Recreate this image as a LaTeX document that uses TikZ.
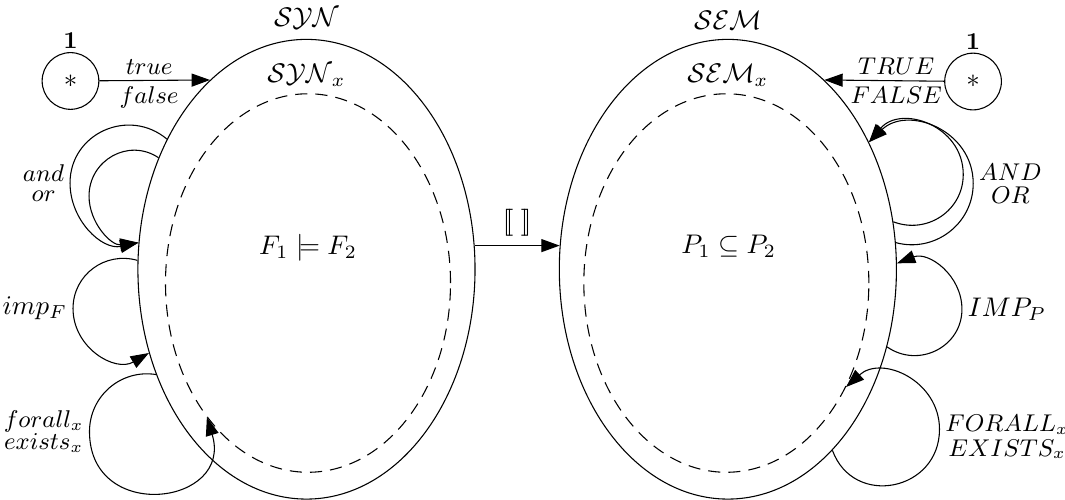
\documentclass[tikz,border=0pt]{standalone}
\usepackage{amsmath,amssymb}
\usetikzlibrary{arrows.meta,positioning,shapes.geometric}

\begin{document}
\begin{tikzpicture}[
  outerset/.style={draw, ellipse, minimum width=4.4cm, minimum height=6cm, inner sep=0pt},
  innerset/.style={draw, ellipse, dash pattern=on 4.5pt off 3pt,
                   minimum width=3.72cm, minimum height=4.94cm, inner sep=0pt},
  initstate/.style={draw, circle, minimum size=7.4mm, inner sep=0pt},
  lbl/.style={font=\small, align=center, inner sep=2pt},
  arrow/.style={-{Triangle[length=2.4mm, width=1.7mm]}}
]
\useasboundingbox (0,0) rectangle (13.9,6.514);

% the two sets
\node[outerset] (syn) at (4.0,3.0) {};
\node[innerset] (synx) at (4.02,2.82) {};
\node[outerset] (sem) at (9.5,3.0) {};
\node[innerset] (semx) at (9.48,2.82) {};
\node[above=0pt of syn.north] (synname) {$\mathcal{SYN}$};
\node[below=2mm of syn.north] (synxname) {$\mathcal{SYN}_x$};
\node[above=0pt of sem.north] (semname) {$\mathcal{SEM}$};
\node[below=2mm of sem.north] (semxname) {$\mathcal{SEM}_x$};
\node (synrel) at (4.02,3.28) {$F_1 \models F_2$};
\node (semrel) at (9.51,3.3) {$P_1 \subseteq P_2$};

% outermost points of the loops
\coordinate (andout) at (0.914,4.125);
\coordinate (andin) at (1.162,3.956);
\coordinate (impleft) at (0.953,2.487);
\coordinate (allleft) at (1.168,0.881);
\coordinate (androut) at (12.702,4.119);
\coordinate (andrin) at (12.572,4.236);
\coordinate (impright) at (12.555,2.478);
\coordinate (allright) at (12.262,0.911);

% constants
\node[initstate, label={[label distance=-0.8mm, font=\small]above:$\mathbf{1}$}] (lstar) at (0.92,5.457) {$*$};
\node[initstate, label={[label distance=-0.8mm, font=\small]above:$\mathbf{1}$}] (rstar) at (12.70,5.45) {$*$};
\draw[arrow] (lstar) -- node[lbl, above, pos=0.45]{$true$} node[lbl, below, pos=0.45]{$false$} (syn.117);
\draw[arrow] (rstar) -- node[lbl, above, pos=0.4]{$TRUE$} node[lbl, below, pos=0.4]{$FALSE$} (sem.63);

% interpretation
\draw[arrow] (syn.8) -- node[above]{$[\![\;]\!]$} (sem.172);

% syntax loops
\draw[arrow] (syn.137) to[out=140, in=90, looseness=1.2] (andout)
  node[lbl, left]{$and$\\[-3.5pt]$or$}
  to[out=270, in=192, looseness=1.05] (syn.171);
\draw[arrow] (syn.143) to[out=146, in=90, looseness=1.16] (andin)
  to[out=270, in=187, looseness=1.02] (syn.171);
\draw[arrow] (syn.177) to[out=164, in=90, looseness=1.07] (impleft)
  node[lbl, left, font=\normalsize]{$imp_F$}
  to[out=270, in=210, looseness=1.14] (syn.208);
\draw[arrow] (syn.215) to[out=171, in=90, looseness=1.04] (allleft)
  node[lbl, left]{$forall_x$\\[-2.8pt]$exists_x$}
  to[out=270, in=287, looseness=2.0] (synx.233);

% semantic loops
\draw[arrow] (sem.9) to[out=345, in=270, looseness=1.06] (androut)
  node[lbl, right]{$AND$\\[-2.4pt]$OR$}
  to[out=90, in=44, looseness=1.22] (sem.42);
\draw[arrow] (sem.16) to[out=339, in=270, looseness=1.09] (andrin)
  to[out=90, in=50, looseness=1.27] (sem.42);
\draw[arrow] (sem.334) to[out=325, in=270, looseness=1.16] (impright)
  node[lbl, right, font=\normalsize]{$IMP_P$}
  to[out=90, in=21, looseness=1.09] (sem.2);
\draw[arrow] (sem.300) to[out=290, in=270, looseness=1.45] (allright)
  node[lbl, right, yshift=-1mm]{$FORALL_x$\\[-2pt]$EXISTS_x$}
  to[out=90, in=42, looseness=1.21] (semx.319);
\end{tikzpicture}
\end{document}
